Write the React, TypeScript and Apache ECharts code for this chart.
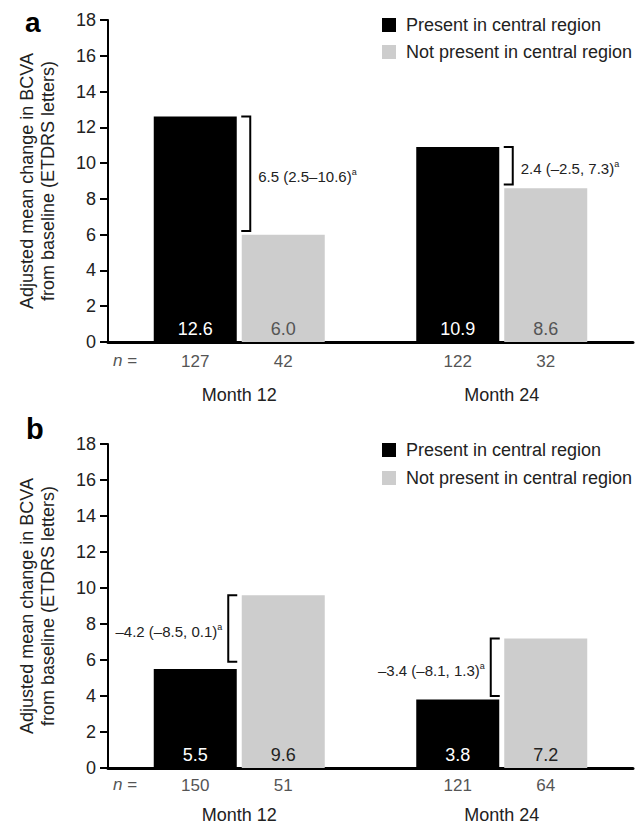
import React, { useEffect, useRef } from "react";
import * as echarts from "echarts";

const months = ["Month 12", "Month 24"];
const seriesNames = ["Present in central region", "Not present in central region"];

// Panel a
const presentA = [12.6, 10.9];
const notPresentA = [6.0, 8.6];
const nPresentA = [127, 122];
const nNotPresentA = [42, 32];
const diffTextA = ["6.5 (2.5–10.6)", "2.4 (–2.5, 7.3)"];
const bracketTopA = [12.6, 10.9];
const bracketBottomA = [6.2, 8.8];

// Panel b
const presentB = [5.5, 3.8];
const notPresentB = [9.6, 7.2];
const nPresentB = [150, 121];
const nNotPresentB = [51, 64];
const diffTextB = ["–4.2 (–8.5, 0.1)", "–3.4 (–8.1, 1.3)"];
const bracketTopB = [9.6, 7.2];
const bracketBottomB = [5.9, 4.0];

const yMin = 0;
const yMax = 18;
const yInterval = 2;

const FONT = "'Liberation Sans', Arial, Helvetica, sans-serif";
const BLACK = "#000000";
const GREY = "#cdcdcd";
const BAR_W = 83;
const GAP_PX = 5;
const HALF = (BAR_W + GAP_PX) / 2;

function nData(nP: number[], nN: number[]) {
  const out: number[][] = [];
  for (let i = 0; i < months.length; i++) {
    out.push([i, 0, nP[i]]);
    out.push([i, 1, nN[i]]);
  }
  return out;
}

function bracketData(top: number[], bottom: number[], side: number) {
  return top.map((t, i) => [i, t, bottom[i], side]);
}

function makeNSeries(idx: number, data: number[][], dy: number) {
  return {
    type: "custom",
    name: "n" + idx,
    xAxisIndex: idx,
    yAxisIndex: idx,
    clip: false,
    silent: true,
    data,
    renderItem: (params: any, api: any) => {
      const p = api.coord([api.value(0), 0]);
      const x = p[0] + (api.value(1) === 0 ? -HALF : HALF);
      return {
        type: "text",
        style: {
          text: String(api.value(2)),
          x,
          y: p[1] + dy,
          align: "center",
          verticalAlign: "middle",
          fill: "#555555",
          fontSize: 17,
          fontFamily: FONT,
        },
      };
    },
  };
}

function makeBracketSeries(idx: number, data: number[][], texts: string[]) {
  return {
    type: "custom",
    name: "br" + idx,
    xAxisIndex: idx,
    yAxisIndex: idx,
    clip: false,
    silent: true,
    data,
    renderItem: (params: any, api: any) => {
      const cat = api.value(0);
      const p1 = api.coord([cat, api.value(1)]);
      const p2 = api.coord([cat, api.value(2)]);
      const side = api.value(3);
      const cx = p1[0];
      const vx = cx + side * 11;
      const tx = cx + side * 2;
      const y1 = p1[1];
      const y2 = p2[1];
      const label = texts[params.dataIndex];
      return {
        type: "group",
        children: [
          {
            type: "polyline",
            shape: {
              points: [
                [tx, y1],
                [vx, y1],
                [vx, y2],
                [tx, y2],
              ],
            },
            style: { stroke: "#000", lineWidth: 2, fill: null },
          },
          {
            type: "text",
            style: {
              text: "{t|" + label + "}{s|a}",
              x: side > 0 ? vx + 8 : vx - 6,
              y: (y1 + y2) / 2 + 3,
              align: side > 0 ? "left" : "right",
              verticalAlign: "middle",
              rich: {
                t: { fontSize: 15, fontFamily: FONT, fill: "#222", lineHeight: 18 },
                s: { fontSize: 9, fontFamily: FONT, fill: "#222", lineHeight: 18, verticalAlign: "top", padding: [0, 0, 6, 0] },
              },
            },
          },
        ],
      };
    },
  };
}

function makeBars(idx: number, present: number[], notPresent: number[], greyLabel: string) {
  return [
    {
      type: "bar",
      name: seriesNames[0],
      xAxisIndex: idx,
      yAxisIndex: idx,
      data: present,
      barWidth: BAR_W,
      barGap: ((GAP_PX / BAR_W) * 100).toFixed(2) + "%",
      itemStyle: { color: BLACK },
      label: {
        show: true,
        position: "insideBottom",
        distance: 4,
        color: "#ffffff",
        fontSize: 18,
        fontFamily: FONT,
        formatter: (p: any) => Number(p.value).toFixed(1),
      },
    },
    {
      type: "bar",
      name: seriesNames[1],
      xAxisIndex: idx,
      yAxisIndex: idx,
      data: notPresent,
      barWidth: BAR_W,
      barGap: ((GAP_PX / BAR_W) * 100).toFixed(2) + "%",
      itemStyle: { color: GREY },
      label: {
        show: true,
        position: "insideBottom",
        distance: 4,
        color: greyLabel,
        fontSize: 18,
        fontFamily: FONT,
        formatter: (p: any) => Number(p.value).toFixed(1),
      },
    },
  ];
}

function makeXAxis(idx: number, margin: number) {
  return {
    type: "category",
    gridIndex: idx,
    data: months,
    axisLine: { show: true, lineStyle: { color: "#000", width: 3 } },
    axisTick: { show: false },
    axisLabel: { margin, fontSize: 18, color: "#222", fontFamily: FONT },
    splitLine: { show: false },
  };
}

function makeYAxis(idx: number) {
  return {
    type: "value",
    gridIndex: idx,
    min: yMin,
    max: yMax,
    interval: yInterval,
    name: "Adjusted mean change in BCVA\nfrom baseline (ETDRS letters)",
    nameLocation: "middle",
    nameGap: 50,
    nameTextStyle: { fontSize: 18, color: "#222", fontFamily: FONT, lineHeight: 21 },
    axisLine: { show: true, lineStyle: { color: "#000", width: 2 } },
    axisTick: { show: true, length: 8, lineStyle: { color: "#000", width: 2 } },
    axisLabel: { fontSize: 18, color: "#222", fontFamily: FONT, margin: 12 },
    splitLine: { show: false },
  };
}

function makeLegend(top: number, gap: number) {
  return {
    data: seriesNames,
    orient: "vertical",
    left: 382,
    top,
    padding: 0,
    itemWidth: 14,
    itemHeight: 14,
    itemGap: gap,
    icon: "rect",
    selectedMode: false,
    textStyle: { fontSize: 18, color: "#222", fontFamily: FONT, lineHeight: 18, padding: [0, 0, 0, 5] },
  };
}

export default function App() {
  const ref = useRef<HTMLDivElement>(null);
  useEffect(() => {
    if (!ref.current) return;
    const chart = echarts.init(ref.current, undefined, { renderer: "svg" });
    chart.setOption({
      animation: false,
      backgroundColor: "#ffffff",
      textStyle: { fontFamily: FONT },
      grid: [
        { left: 108, top: 20, width: 525, height: 322 },
        { left: 108, top: 444, width: 525, height: 324 },
      ],
      legend: [makeLegend(16, 9), makeLegend(441, 10)],
      xAxis: [makeXAxis(0, 44), makeXAxis(1, 38)],
      yAxis: [makeYAxis(0), makeYAxis(1)],
      graphic: [
        { type: "text", left: 25, top: 8, style: { text: "a", fontSize: 28, fontWeight: "bold", fill: "#000", fontFamily: FONT } },
        { type: "text", left: 26, top: 414, style: { text: "b", fontSize: 29, fontWeight: "bold", fill: "#000", fontFamily: FONT } },
        {
          type: "text",
          left: 113,
          top: 352,
          style: { text: "{i|n} =", rich: { i: { fontStyle: "italic", fontSize: 17, fill: "#555", fontFamily: FONT } }, fontSize: 17, fill: "#555", fontFamily: FONT },
        },
        {
          type: "text",
          left: 113,
          top: 776,
          style: { text: "{i|n} =", rich: { i: { fontStyle: "italic", fontSize: 17, fill: "#555", fontFamily: FONT } }, fontSize: 17, fill: "#555", fontFamily: FONT },
        },
      ],
      series: [
        ...makeBars(0, presentA, notPresentA, "#555555"),
        ...makeBars(1, presentB, notPresentB, "#222222"),
        makeNSeries(0, nData(nPresentA, nNotPresentA), 19),
        makeNSeries(1, nData(nPresentB, nNotPresentB), 17),
        makeBracketSeries(0, bracketData(bracketTopA, bracketBottomA, 1), diffTextA),
        makeBracketSeries(1, bracketData(bracketTopB, bracketBottomB, -1), diffTextB),
      ],
    });
    return () => chart.dispose();
  }, []);
  return (
    <div
      ref={ref}
      style={{ position: "fixed", left: 0, top: 0, width: 644, height: 827, background: "#fff" }}
    />
  );
}
